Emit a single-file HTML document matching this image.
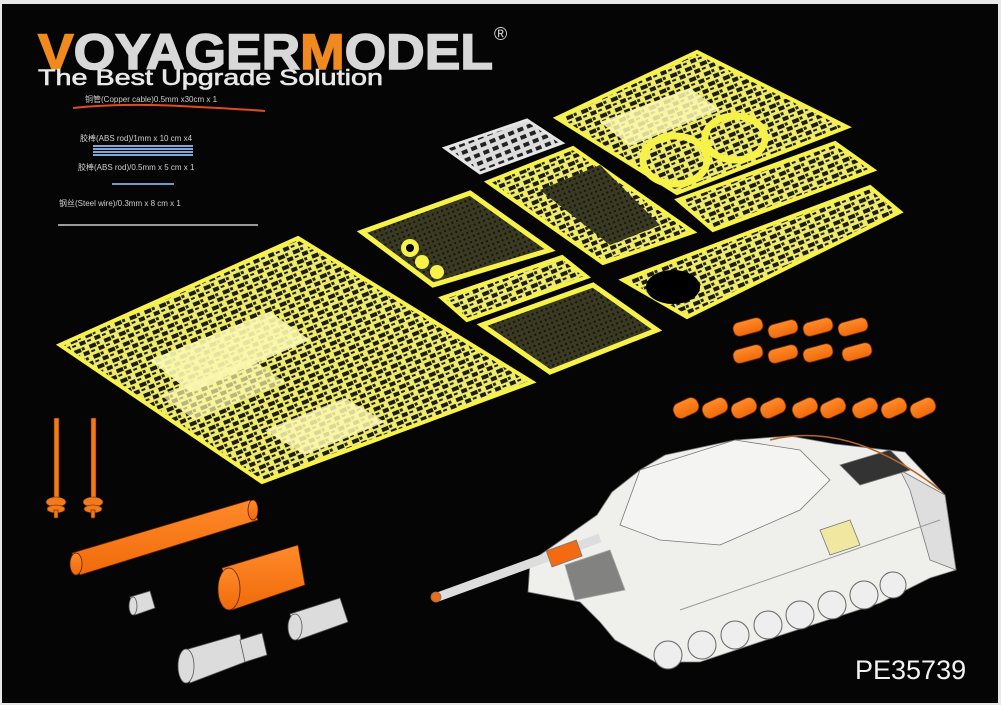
<!DOCTYPE html>
<html><head><meta charset="utf-8"><style>
html,body{margin:0;padding:0;background:#fff;}
#w{width:1001px;height:705px;position:relative;overflow:hidden;background:#e8e8e8;}
svg{position:absolute;left:0;top:0;}
</style></head><body><div id="w">
<svg width="1001" height="705" viewBox="0 0 1001 705" xmlns="http://www.w3.org/2000/svg">
<defs>
<pattern id="fret" width="16" height="11" patternUnits="userSpaceOnUse" patternTransform="rotate(-22)">
<rect width="16" height="11" fill="#eeea6a"/>
<rect x="1" y="1" width="7" height="4" fill="#1e1e10"/>
<rect x="9" y="6" width="6" height="4" fill="#1e1e10"/>
<rect x="9" y="1" width="3" height="3" fill="#2a2a14"/>
<rect x="1" y="7" width="4" height="2" fill="#222"/>
</pattern>
<pattern id="mesh" width="5" height="5" patternUnits="userSpaceOnUse" patternTransform="rotate(-22)">
<rect width="5" height="5" fill="#3a3a22"/>
<rect x="0" y="0" width="2" height="2" fill="#141410"/>
</pattern>
<pattern id="gfret" width="10" height="8" patternUnits="userSpaceOnUse" patternTransform="rotate(-22)">
<rect width="10" height="8" fill="#ddd"/>
<rect x="1" y="1" width="6" height="4" fill="#222"/>
</pattern>
<linearGradient id="org" x1="0" y1="0" x2="0" y2="1"><stop offset="0" stop-color="#ff8a2a"/><stop offset="1" stop-color="#f06a0a"/></linearGradient>
</defs>
<rect x="2" y="4" width="996" height="699" fill="#050505"/>

<!-- logo -->
<text x="38" y="69" font-family="Liberation Sans, sans-serif" font-weight="bold" font-size="50" fill="#d8d8d8" stroke="#d8d8d8" stroke-width="1.5" textLength="455" lengthAdjust="spacingAndGlyphs"><tspan fill="#f08a1e" stroke="#f08a1e">V</tspan>OYAGER<tspan fill="#f08a1e" stroke="#f08a1e">M</tspan>ODEL</text>
<text x="494" y="40" font-family="Liberation Sans, sans-serif" font-size="18" fill="#ddd">®</text>
<text x="38" y="85" font-family="Liberation Sans, sans-serif" font-size="22" fill="#e8e8e8" stroke="#e8e8e8" stroke-width=".6" textLength="345" lengthAdjust="spacingAndGlyphs">The Best Upgrade Solution</text>

<text x="85" y="102" font-family="Liberation Sans, Noto Sans CJK SC, sans-serif" font-size="8" fill="#cfcfcf">铜管(Copper cable)0.5mm x30cm x 1</text>
<path d="M73 108 Q120 103 180 106 T265 111" stroke="#e04a20" stroke-width="2" fill="none"/>
<text x="80" y="141" font-family="Liberation Sans, Noto Sans CJK SC, sans-serif" font-size="8" fill="#cfcfcf">胶棒(ABS rod)/1mm x 10 cm x4</text>
<rect x="93" y="145" width="100" height="2" fill="#7ea6d8"/><rect x="93" y="148" width="100" height="2" fill="#7ea6d8"/><rect x="93" y="151" width="100" height="2" fill="#7ea6d8"/><rect x="93" y="154" width="100" height="2" fill="#7ea6d8"/>
<text x="78" y="170" font-family="Liberation Sans, Noto Sans CJK SC, sans-serif" font-size="8" fill="#cfcfcf">胶棒(ABS rod)/0.5mm x 5 cm x 1</text>
<rect x="112" y="183" width="62" height="2" fill="#6f9ad0"/>
<text x="59" y="206" font-family="Liberation Sans, Noto Sans CJK SC, sans-serif" font-size="8" fill="#cfcfcf">钢丝(Steel wire)/0.3mm x 8 cm x 1</text>
<rect x="58" y="224" width="200" height="2" fill="#9a9a9a"/>

<!-- frets -->
<polygon points="60,345 298,238 532,382 262,482" fill="url(#fret)" stroke="#f6f24a" stroke-width="4"/>
<polygon points="150,360 270,312 310,340 190,392" fill="#fbf8b0" opacity=".9"/>
<polygon points="160,395 250,358 285,382 195,420" fill="#fbf8b0" opacity=".7"/>
<polygon points="265,430 345,398 385,422 305,455" fill="#fbf8b0" opacity=".85"/>
<polygon points="362,232 470,193 550,250 433,285" fill="url(#mesh)" stroke="#f6f24a" stroke-width="5"/>
<polygon points="445,148 527,120 562,143 480,173" fill="url(#gfret)" stroke="#e6e6e6" stroke-width="3"/>
<polygon points="488,182 573,148 693,232 603,263" fill="url(#fret)" stroke="#f6f24a" stroke-width="4"/>
<polygon points="540,190 600,165 660,225 610,245" fill="url(#mesh)"/>
<polygon points="557,118 697,52 847,127 677,193" fill="url(#fret)" stroke="#f6f24a" stroke-width="4"/>
<polygon points="600,122 690,88 720,110 630,146" fill="#fbf8b0" opacity=".85"/>
<ellipse cx="735" cy="138" rx="30" ry="22" fill="none" stroke="#f6f24a" stroke-width="7"/>
<ellipse cx="675" cy="160" rx="32" ry="24" fill="none" stroke="#f6f24a" stroke-width="7"/>
<polygon points="678,200 835,143 873,170 713,230" fill="url(#fret)" stroke="#f6f24a" stroke-width="4"/>
<polygon points="623,280 870,187 900,212 687,317" fill="url(#fret)" stroke="#f6f24a" stroke-width="4"/>
<ellipse cx="673" cy="287" rx="27" ry="17" fill="#000"/>
<polygon points="442,298 562,257 587,277 467,320" fill="url(#fret)" stroke="#f6f24a" stroke-width="4"/>
<polygon points="482,325 593,285 657,330 550,372" fill="url(#mesh)" stroke="#f6f24a" stroke-width="5"/>
<circle cx="410" cy="248" r="9" fill="#f6f24a"/><circle cx="410" cy="248" r="4" fill="#000"/>
<circle cx="422" cy="262" r="7" fill="#f6f24a"/><circle cx="437" cy="272" r="7" fill="#f6f24a"/>

<!-- small orange cylinders -->
<g fill="url(#org)" stroke="#6a2a00" stroke-width=".8">
<rect x="733" y="320" width="30" height="14" rx="6" transform="rotate(-15 748 327)"/>
<rect x="768" y="322" width="30" height="14" rx="6" transform="rotate(-15 783 329)"/>
<rect x="803" y="320" width="30" height="14" rx="6" transform="rotate(-15 818 327)"/>
<rect x="838" y="320" width="30" height="14" rx="6" transform="rotate(-15 853 327)"/>
<rect x="733" y="347" width="30" height="14" rx="6" transform="rotate(-15 748 354)"/>
<rect x="768" y="347" width="30" height="14" rx="6" transform="rotate(-15 783 354)"/>
<rect x="803" y="346" width="30" height="14" rx="6" transform="rotate(-15 818 353)"/>
<rect x="842" y="345" width="30" height="14" rx="6" transform="rotate(-15 857 352)"/>
<rect x="673" y="400" width="26" height="16" rx="7" transform="rotate(-25 686 408)"/>
<rect x="702" y="400" width="26" height="16" rx="7" transform="rotate(-25 715 408)"/>
<rect x="731" y="400" width="26" height="16" rx="7" transform="rotate(-25 744 408)"/>
<rect x="760" y="400" width="26" height="16" rx="7" transform="rotate(-25 773 408)"/>
<rect x="792" y="400" width="26" height="16" rx="7" transform="rotate(-25 805 408)"/>
<rect x="820" y="400" width="26" height="16" rx="7" transform="rotate(-25 833 408)"/>
<rect x="852" y="400" width="26" height="16" rx="7" transform="rotate(-25 865 408)"/>
<rect x="881" y="400" width="26" height="16" rx="7" transform="rotate(-25 894 408)"/>
<rect x="910" y="400" width="26" height="16" rx="7" transform="rotate(-25 923 408)"/>
</g>

<!-- antennas -->
<g fill="#f27a1a" stroke="#5a2000" stroke-width=".6">
<rect x="54" y="418" width="5" height="90"/><ellipse cx="56" cy="502" rx="10" ry="5"/><ellipse cx="56" cy="509" rx="9" ry="4"/><rect x="54" y="510" width="4" height="8"/>
<rect x="91" y="418" width="5" height="90"/><ellipse cx="93" cy="502" rx="10" ry="5"/><ellipse cx="93" cy="509" rx="9" ry="4"/><rect x="91" y="510" width="4" height="8"/>
</g>
<!-- large orange parts -->
<g fill="url(#org)" stroke="#5a2000" stroke-width=".8">
<polygon points="72,553 250,500 258,520 80,575"/>
<ellipse cx="76" cy="564" rx="6" ry="11"/>
<ellipse cx="253" cy="510" rx="5" ry="10"/>
<polygon points="222,568 298,545 305,585 232,610"/>
<ellipse cx="229" cy="589" rx="11" ry="21"/>
</g>
<!-- grey parts -->
<g fill="#dcdcdc" stroke="#555" stroke-width=".8">
<polygon points="130,597 150,591 155,608 135,615"/><ellipse cx="133" cy="606" rx="4" ry="9"/>
<polygon points="290,614 340,598 348,622 298,640"/><ellipse cx="295" cy="627" rx="7" ry="13"/>
<polygon points="185,650 240,634 245,662 190,683"/><ellipse cx="186" cy="666" rx="8" ry="17"/>
<polygon points="240,640 262,633 267,655 245,662"/>
</g>

<!-- tank -->
<g stroke="#777" stroke-width=".8">
<polygon points="597,515 612,492 640,470 665,455 735,440 790,436 835,444 905,452 945,495 956,570 930,578 880,603 760,642 700,662 655,662 615,640 600,622 580,602 528,592 530,562" fill="#efefec"/>
<polygon points="640,470 735,440 800,450 830,480 800,510 720,545 660,540 620,525" fill="#f4f4f2"/>
<polygon points="900,470 945,495 956,570 930,560 910,490" fill="#dedede"/>
<polygon points="840,465 890,450 910,470 860,485" fill="#333"/>
<line x1="435" y1="598" x2="600" y2="538" stroke="#ddd" stroke-width="9"/>
<rect x="548" y="545" width="32" height="17" fill="#f26a12" transform="rotate(-20 564 553)"/>
<circle cx="436" cy="597" r="5" fill="#f26a12"/>
<polygon points="565,565 610,550 625,590 575,600" fill="#3a3a3a" opacity=".6"/>
<polygon points="820,530 850,520 860,545 830,555" fill="#f0e8a0"/>
</g>
<g fill="#eee" stroke="#666" stroke-width="1">
<circle cx="668" cy="655" r="14"/><circle cx="702" cy="645" r="14"/><circle cx="735" cy="635" r="14"/><circle cx="768" cy="625" r="14"/><circle cx="800" cy="615" r="14"/><circle cx="832" cy="605" r="14"/><circle cx="864" cy="595" r="14"/><circle cx="893" cy="585" r="13"/>
</g>
<line x1="680" y1="610" x2="940" y2="520" stroke="#999" stroke-width="1"/>
<path d="M770 440 Q850 420 940 490" stroke="#b5652a" stroke-width="1.5" fill="none"/>

<text x="855" y="679" font-family="Liberation Sans, sans-serif" font-size="27" fill="#f2f2f2">PE35739</text>
</svg>
</div></body></html>
